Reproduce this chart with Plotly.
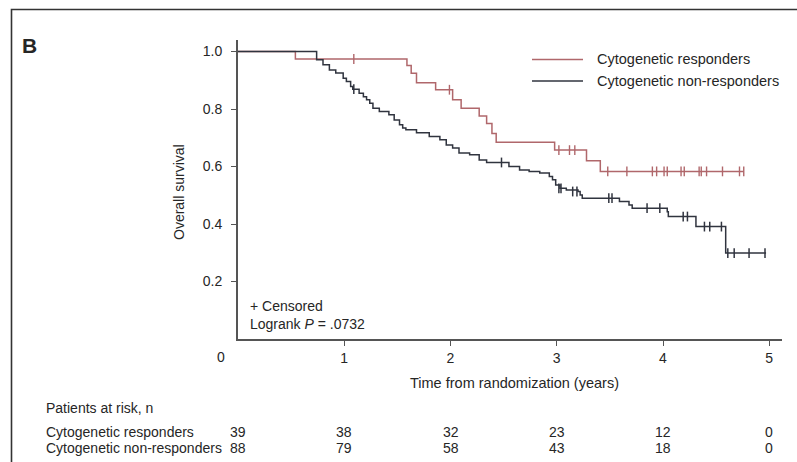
import plotly.graph_objects as go

# ---------------- data ----------------
resp_name = "Cytogenetic responders"
nonresp_name = "Cytogenetic non-responders"

resp_t = [0, 0.54, 1.59, 1.63, 1.68, 1.86, 2.02, 2.10, 2.27, 2.34, 2.39, 2.43, 2.98, 3.28, 3.41, 4.76]
resp_s = [1.0, 0.974, 0.951, 0.924, 0.891, 0.867, 0.832, 0.803, 0.776, 0.750, 0.715, 0.684, 0.657, 0.620, 0.583, 0.583]
resp_cens_t = [1.09, 1.99, 3.02, 3.12, 3.17, 3.48, 3.66, 3.90, 3.94, 4.01, 4.04, 4.17, 4.20, 4.34, 4.36, 4.41, 4.56, 4.72, 4.76]
resp_cens_s = [0.974, 0.867, 0.657, 0.657, 0.657] + [0.583] * 14

nonresp_t = [0, 0.74, 0.80, 0.86, 0.92, 0.99, 1.02, 1.06, 1.08, 1.14, 1.18, 1.21, 1.24, 1.27, 1.33,
             1.42, 1.47, 1.52, 1.55, 1.58, 1.68, 1.80, 1.90, 1.96, 2.02, 2.08, 2.18, 2.27, 2.34,
             2.55, 2.65, 2.74, 2.84, 2.93, 2.96, 2.99, 3.03, 3.09, 3.20, 3.22, 3.24, 3.59, 3.68,
             3.71, 4.04, 4.05, 4.31, 4.59, 4.97]
nonresp_s = [1.0, 0.971, 0.954, 0.936, 0.925, 0.907, 0.896, 0.878, 0.869, 0.855, 0.843, 0.832, 0.820, 0.803, 0.791,
             0.780, 0.762, 0.745, 0.734, 0.728, 0.717, 0.704, 0.693, 0.675, 0.664, 0.647, 0.641, 0.623, 0.614,
             0.600, 0.588, 0.583, 0.577, 0.565, 0.554, 0.536, 0.524, 0.518, 0.513, 0.501, 0.490, 0.478, 0.466,
             0.455, 0.443, 0.426, 0.391, 0.299, 0.299]
nonresp_cens_t = [1.09, 2.48, 3.02, 3.04, 3.15, 3.19, 3.49, 3.52, 3.85, 3.97, 4.19, 4.23, 4.39, 4.44, 4.55,
                  4.61, 4.67, 4.81, 4.96]
nonresp_cens_s = [0.869, 0.614, 0.524, 0.524, 0.513, 0.513, 0.490, 0.490, 0.455, 0.455, 0.426, 0.426,
                  0.391, 0.391, 0.391, 0.299, 0.299, 0.299, 0.299]

risk_times = [0, 1, 2, 3, 4, 5]
risk_resp = [39, 38, 32, 23, 12, 0]
risk_nonresp = [88, 79, 58, 43, 18, 0]

x_ticks = [1, 2, 3, 4, 5]
y_ticks = [0.2, 0.4, 0.6, 0.8, 1.0]
y_ticktext = ["0.2", "0.4", "0.6", "0.8", "1.0"]

# ---------------- layout geometry ----------------
W, H = 797, 462
L, R, T, B = 238, 15, 40, 123
PW, PH = W - L - R, H - T - B


def px(x):
    return (x - L) / PW


def py(y):
    return 1 - (y - T) / PH


RED = "#b0676b"
BLK = "#30343f"
TXT = "#262626"
FONT = "Liberation Sans, Arial, sans-serif"

fig = go.Figure()
fig.add_trace(go.Scatter(x=resp_t, y=resp_s, mode="lines", line=dict(color=RED, width=1.5, shape="hv"),
                         name=resp_name, showlegend=False, hoverinfo="skip"))
fig.add_trace(go.Scatter(x=nonresp_t, y=nonresp_s, mode="lines", line=dict(color=BLK, width=1.5, shape="hv"),
                         name=nonresp_name, showlegend=False, hoverinfo="skip"))
fig.add_trace(go.Scatter(x=resp_cens_t, y=resp_cens_s, mode="markers",
                         marker=dict(symbol="line-ns-open", size=7, color=RED, line=dict(color=RED, width=1.4)),
                         showlegend=False, hoverinfo="skip"))
fig.add_trace(go.Scatter(x=nonresp_cens_t, y=nonresp_cens_s, mode="markers",
                         marker=dict(symbol="line-ns-open", size=7, color=BLK, line=dict(color=BLK, width=1.5)),
                         showlegend=False, hoverinfo="skip"))

shapes = [
    dict(type="rect", xref="paper", yref="paper", x0=px(11.5), y0=py(9.5), x1=px(810), y1=py(480),
         line=dict(color="#333333", width=1.6), fillcolor="rgba(0,0,0,0)", layer="below"),
    dict(type="line", xref="paper", yref="paper", x0=px(532), x1=px(583), y0=py(59.5), y1=py(59.5),
         line=dict(color=RED, width=1.5)),
    dict(type="line", xref="paper", yref="paper", x0=px(532), x1=px(583), y0=py(81), y1=py(81),
         line=dict(color=BLK, width=1.5)),
]

ann = []


def text(x, y, s, size=14, xanchor="left", xref="paper", **kw):
    ann.append(dict(x=x, y=y, xref=xref, yref="paper", text=s, showarrow=False, xanchor=xanchor,
                    yanchor="middle", font=dict(family=FONT, size=size, color=TXT), **kw))


text(px(20), py(45), "<b>B</b>", size=21)
text(px(595), py(59.5), resp_name, size=14.5)
text(px(595), py(81), nonresp_name, size=14.5)
text(px(248), py(306), "+ Censored", size=14)
text(px(248), py(324), "Logrank <i>P</i> = .0732", size=14)
text(px(221), py(357), "0", size=14, xanchor="center")
text(px(514), py(383), "Time from randomization (years)", size=14.5, xanchor="center")
text(px(179), py(192), "Overall survival", size=14, xanchor="center", textangle=-90)
text(px(44), py(408), "Patients at risk, n", size=14)
text(px(44), py(432), resp_name, size=14)
text(px(44), py(448), nonresp_name, size=14)
for t, a, b in zip(risk_times, risk_resp, risk_nonresp):
    text(t, py(432), str(a), size=14, xanchor="center", xref="x")
    text(t, py(448), str(b), size=14, xanchor="center", xref="x")

fig.update_layout(
    width=W, height=H,
    margin=dict(l=L, r=R, t=T, b=B),
    paper_bgcolor="white", plot_bgcolor="white",
    font=dict(family=FONT, size=14, color=TXT),
    shapes=shapes, annotations=ann,
    xaxis=dict(range=[0, 5.12], tickvals=x_ticks, ticktext=[str(v) for v in x_ticks],
               showgrid=False, zeroline=False, showline=True, linecolor="#555555", linewidth=1.8,
               ticks="outside", ticklen=5, tickwidth=1.3, tickcolor="#555555",
               tickfont=dict(size=14, family=FONT, color=TXT)),
    yaxis=dict(range=[0, 1.04], tickvals=y_ticks, ticktext=y_ticktext,
               showgrid=False, zeroline=False, showline=True, linecolor="#555555", linewidth=1.8,
               ticks="outside", ticklen=5, tickwidth=1.3, tickcolor="#555555",
               ticklabelstandoff=6, tickfont=dict(size=14, family=FONT, color=TXT)),
)

fig.write_html("out.html")
